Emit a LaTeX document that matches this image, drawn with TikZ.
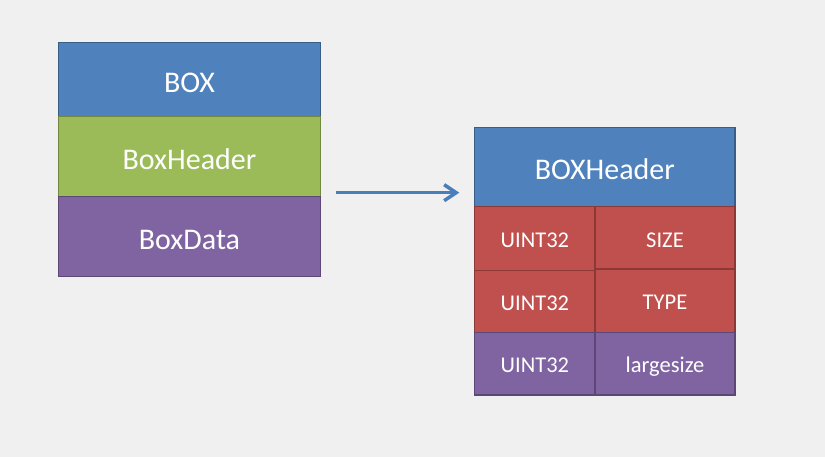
\documentclass[tikz,border=0pt]{standalone}
\usepackage{fontspec}
\setmainfont{Carlito}
\usetikzlibrary{arrows.meta}
\definecolor{bg}{HTML}{F0F0F0}
\definecolor{cblue}{HTML}{4F81BD}
\definecolor{cblueb}{HTML}{385D8A}
\definecolor{cgreen}{HTML}{9BBB59}
\definecolor{cgreenb}{HTML}{71893F}
\definecolor{cpurple}{HTML}{8064A2}
\definecolor{cpurpleb}{HTML}{5C4776}
\definecolor{cred}{HTML}{C0504D}
\definecolor{credb}{HTML}{8C3836}
\definecolor{carrow}{HTML}{4A7EBB}
\tikzset{
  cell/.style={rectangle, anchor=north west, inner sep=0pt, outer sep=0pt, line width=1.5pt, text=white},
  big/.style={font=\fontsize{30}{33}\selectfont, text height=27pt, text depth=1.5pt},
  small/.style={font=\fontsize{22.5}{25}\selectfont, text height=19.1pt, text depth=0.7pt},
  bluecell/.style={cell, fill=cblue, draw=cblueb},
  greencell/.style={cell, fill=cgreen, draw=cgreenb},
  purplecell/.style={cell, fill=cpurple, draw=cpurpleb},
  redcell/.style={cell, fill=cred, draw=credb},
  arrowline/.style={draw=carrow, line width=3.5pt, -{Straight Barb[length=12pt,width=16pt,line width=3.5pt]}}
}
\begin{document}
\begin{tikzpicture}[x=1pt,y=-1pt]
\fill[bg] (0,0) rectangle (825,457);
\useasboundingbox (0,0) rectangle (825,457);
% left stack
\node[bluecell, big, minimum width=261.6pt, minimum height=74.4pt] (box) at (58.7,42.3) {BOX};
\node[greencell, big, minimum width=261.6pt, minimum height=79.6pt] (hdr) at (58.7,116.7) {BoxHeader};
\node[purplecell, big, minimum width=261.6pt, minimum height=80.4pt] (data) at (58.7,196.3) {BoxData};
% right table
\node[bluecell, big, minimum width=260.3pt, minimum height=79.4pt] (bh) at (474.7,127.3) {BOXHeader};
\node[redcell, small, minimum width=120.3pt, minimum height=64pt] (u1) at (474.7,206.7) {UINT32};
\node[redcell, small, minimum width=120.3pt, minimum height=61.6pt] (u2) at (474.7,270.7) {UINT32};
\node[purplecell, small, minimum width=120.3pt, minimum height=62.7pt] (u3) at (474.7,332.3) {UINT32};
\node[redcell, small, minimum width=140pt, minimum height=62.3pt] (size) at (595,206.7) {SIZE};
\node[redcell, small, minimum width=140pt, minimum height=63.3pt] (type) at (595,269) {TYPE};
\node[purplecell, small, minimum width=140pt, minimum height=62.7pt] (ls) at (595,332.3) {largesize};
% arrow
\coordinate (a1) at (336,192.7);
\coordinate (a2) at (459.3,192.7);
\draw[arrowline] (a1) -- (a2);
\end{tikzpicture}
\end{document}
